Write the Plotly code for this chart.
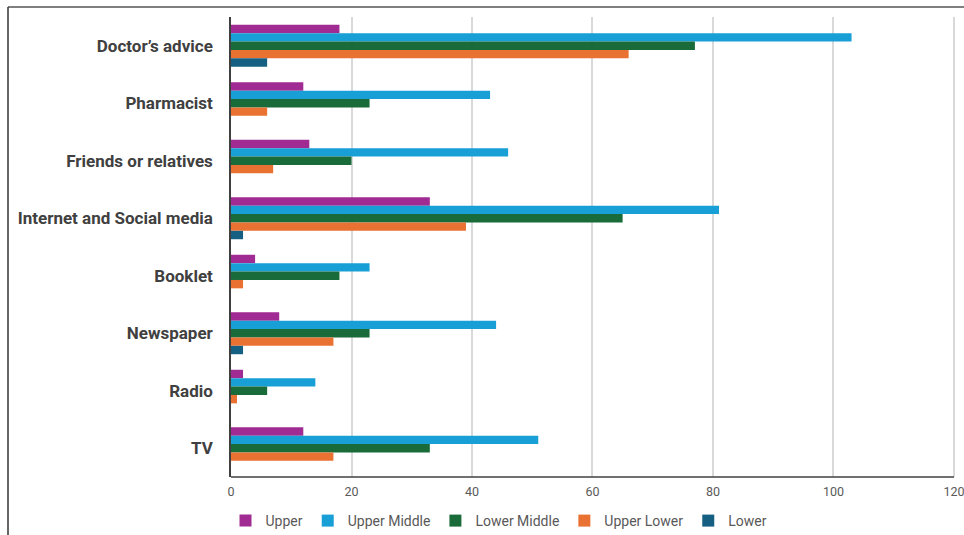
import plotly.graph_objects as go

categories = ["Doctor’s advice", "Pharmacist", "Friends or relatives", "Internet and Social media",
              "Booklet", "Newspaper", "Radio", "TV"]
upper = [18, 12, 13, 33, 4, 8, 2, 12]
upper_middle = [103, 43, 46, 81, 23, 44, 14, 51]
lower_middle = [77, 23, 20, 65, 18, 23, 6, 33]
upper_lower = [66, 6, 7, 39, 2, 17, 1, 17]
lower = [6, 0, 0, 2, 0, 2, 0, 0]
x_ticks = [0, 20, 40, 60, 80, 100, 120]

series = [
    ("Upper", upper, "#A02B93"),
    ("Upper Middle", upper_middle, "#189FD6"),
    ("Lower Middle", lower_middle, "#196B3A"),
    ("Upper Lower", upper_lower, "#E97132"),
    ("Lower", lower, "#156082"),
]

fig = go.Figure()
for name, vals, color in series:
    fig.add_trace(go.Bar(y=categories, x=vals, name=name, orientation="h",
                         marker=dict(color=color, line=dict(width=0))))

W, H = 964, 535
L, R, T, B = 231, 4, 17, 58
pw, ph = W - L - R, H - T - B

def px_x(p):
    return (p - L) / pw

def px_y(p):
    return (H - B - p) / ph

fig.update_layout(
    width=W, height=H,
    margin=dict(l=L, r=R, t=T, b=B, autoexpand=False),
    paper_bgcolor="white", plot_bgcolor="white",
    barmode="group", bargap=0.27, bargroupgap=0,
    font=dict(family="Roboto", color="#595959"),
    legend=dict(orientation="h", x=px_x(499), xanchor="center", y=px_y(521), yanchor="middle",
                font=dict(size=14, color="#595959"), traceorder="normal",
                itemwidth=30, tracegroupgap=0),
    xaxis=dict(range=[0, 121], tickvals=x_ticks, showgrid=True,
               gridcolor="#D9D9D9", gridwidth=1.5, automargin=False,
               zeroline=False, showline=False,
               tickfont=dict(size=12.5, color="#595959"), ticks="", ticklabelstandoff=5,
               ticklabeloverflow="allow", fixedrange=True),
    yaxis=dict(autorange="reversed", showline=True, linecolor="#404040", linewidth=1.5,
               tickfont=dict(size=17, color="#404040", family="Roboto", weight="bold"),
               ticks="", ticklabelstandoff=13, showgrid=False, automargin=False),
    shapes=[
        # x-axis baseline from 0 to 120
        dict(type="line", xref="x", yref="paper", x0=0, x1=x_ticks[-1], y0=0, y1=0,
             line=dict(color="#404040", width=1.5)),
        # outer frame (top and left edges of the picture)
        dict(type="line", xref="paper", yref="paper", x0=px_x(8), x1=px_x(W + 5), y0=px_y(7), y1=px_y(7),
             line=dict(color="#555555", width=1.5)),
        dict(type="line", xref="paper", yref="paper", x0=px_x(8), x1=px_x(8), y0=px_y(7), y1=px_y(H + 5),
             line=dict(color="#333333", width=1.5)),
    ],
)

fig.write_html("out.html")
